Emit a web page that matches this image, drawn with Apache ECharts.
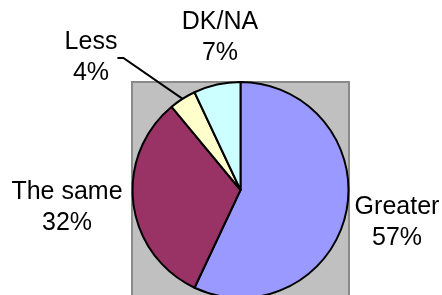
<!DOCTYPE html>
<html>
<head>
<meta charset="utf-8">
<script src="https://cdn.jsdelivr.net/npm/echarts@6/dist/echarts.min.js"></script>
<style>
html,body{margin:0;padding:0;background:#fff;}
#chart{width:442px;height:295px;}
</style>
</head>
<body>
<div id="chart"></div>
<script>
var categories = ['Greater', 'The same', 'Less', 'DK/NA'];
var values = [57, 32, 4, 7];
var colors = ['#9999FF', '#993366', '#FFFFCC', '#CCFFFF'];
var showLeader = [false, false, true, false];
var labelCenters = [[397, 223], [67, 208], [91, 58], [220, 38]];

var chart = echarts.init(document.getElementById('chart'), null, {renderer: 'canvas'});
var data = categories.map(function (c, i) {
  return {
    name: c,
    value: values[i],
    itemStyle: {color: colors[i]},
    labelLine: {show: showLeader[i]}
  };
});
chart.setOption({
  animation: false,
  backgroundColor: '#ffffff',
  graphic: [{
    type: 'rect',
    z: 0,
    shape: {x: 132, y: 82, width: 217, height: 240},
    style: {fill: '#C0C0C0', stroke: '#8A8A8A', lineWidth: 2}
  }],
  series: [{
    type: 'pie',
    z: 2,
    center: [240.5, 190],
    radius: 108,
    startAngle: 90,
    clockwise: true,
    avoidLabelOverlap: false,
    data: data,
    itemStyle: {borderColor: '#000000', borderWidth: 2},
    label: {
      show: true,
      position: 'outside',
      formatter: '{b}\n{c}%',
      fontFamily: 'Liberation Sans, Arial, sans-serif',
      fontSize: 25,
      lineHeight: 31,
      color: '#000000',
      align: 'center'
    },
    labelLine: {
      lineStyle: {color: '#000000', width: 2},
      length: 10,
      length2: 6
    },
    labelLayout: function (params) {
      var p = labelCenters[params.dataIndex];
      return {x: p[0], y: p[1], align: 'center', verticalAlign: 'middle'};
    }
  }]
});
</script>
</body>
</html>
